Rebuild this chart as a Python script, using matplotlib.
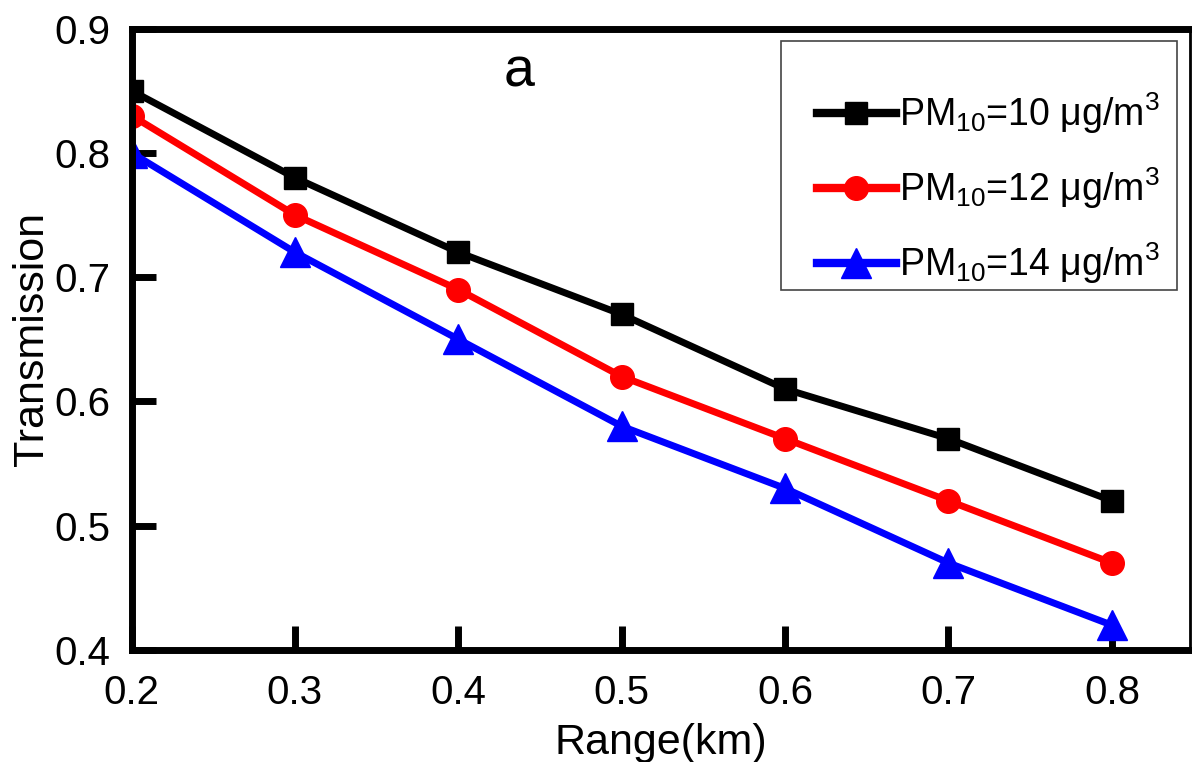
import matplotlib
matplotlib.use("Agg")
import matplotlib.pyplot as plt
from matplotlib.patches import Rectangle

plt.rcParams['font.family'] = ['Liberation Sans', 'DejaVu Sans']
plt.rcParams['mathtext.fontset'] = 'custom'
plt.rcParams['mathtext.rm'] = 'Liberation Sans'
plt.rcParams['mathtext.it'] = 'Liberation Sans:italic'

range_km = [0.2, 0.3, 0.4, 0.5, 0.6, 0.7, 0.8]
pm10_10 = [0.85, 0.78, 0.72, 0.67, 0.61, 0.57, 0.52]
pm10_12 = [0.83, 0.75, 0.69, 0.62, 0.57, 0.52, 0.47]
pm10_14 = [0.80, 0.72, 0.65, 0.58, 0.53, 0.47, 0.42]
labels = [r'PM$_{10}$=10 μg/m$^3$', r'PM$_{10}$=12 μg/m$^3$', r'PM$_{10}$=14 μg/m$^3$']
xticks = [0.2, 0.3, 0.4, 0.5, 0.6, 0.7, 0.8]
yticks = [0.4, 0.5, 0.6, 0.7, 0.8, 0.9]

W, H = 1192, 762
fig = plt.figure(figsize=(W / 100, H / 100), dpi=100)
ax = fig.add_axes([131.5 / W, 1 - 650 / H, (1190 - 131.5) / W, (650 - 28.5) / H])

ax.plot(range_km, pm10_10, color='black', lw=5, marker='s', ms=16, label=labels[0])
ax.plot(range_km, pm10_12, color='red', lw=5, marker='o', ms=17, label=labels[1])
ax.plot(range_km, pm10_14, color='blue', lw=5, marker='^', ms=21, label=labels[2])

ax.set_xlim(0.2, 0.8478)
ax.set_ylim(0.4, 0.9)
ax.set_xticks(xticks)
ax.set_yticks(yticks)
ax.set_xticklabels([f'{v:.1f}' for v in xticks])
ax.set_yticklabels([f'{v:.1f}' for v in yticks])
ax.tick_params(axis='both', direction='in', length=17, width=5, labelsize=29)
ax.tick_params(axis='x', top=False, pad=17)
ax.tick_params(axis='y', right=False, pad=15)

for side in ['left', 'bottom', 'top']:
    ax.spines[side].set_linewidth(5)
ax.spines['right'].set_linewidth(2)

ax.set_xlabel('Range(km)', fontsize=31, labelpad=8)
ax.set_ylabel('Transmission', fontsize=31, labelpad=2)

ax.text(0.437, 0.865, 'a', fontsize=40, ha='center', va='center')

# legend entries without their own frame; the box is drawn separately
leg = ax.legend(loc='center left', bbox_to_anchor=(0.6476, 0.7434), fontsize=27,
                frameon=False, handlelength=2.1, handletextpad=0.08,
                borderpad=0, borderaxespad=0, labelspacing=0.78)
for line in leg.get_lines():
    line.set_linewidth(6)
ax.add_patch(Rectangle((0.6136, 0.5792), 0.9877 - 0.6136, 0.9799 - 0.5792,
                       transform=ax.transAxes, fill=False, edgecolor='#444444',
                       lw=1.2, zorder=4))

fig.savefig('out.png', dpi=100)
